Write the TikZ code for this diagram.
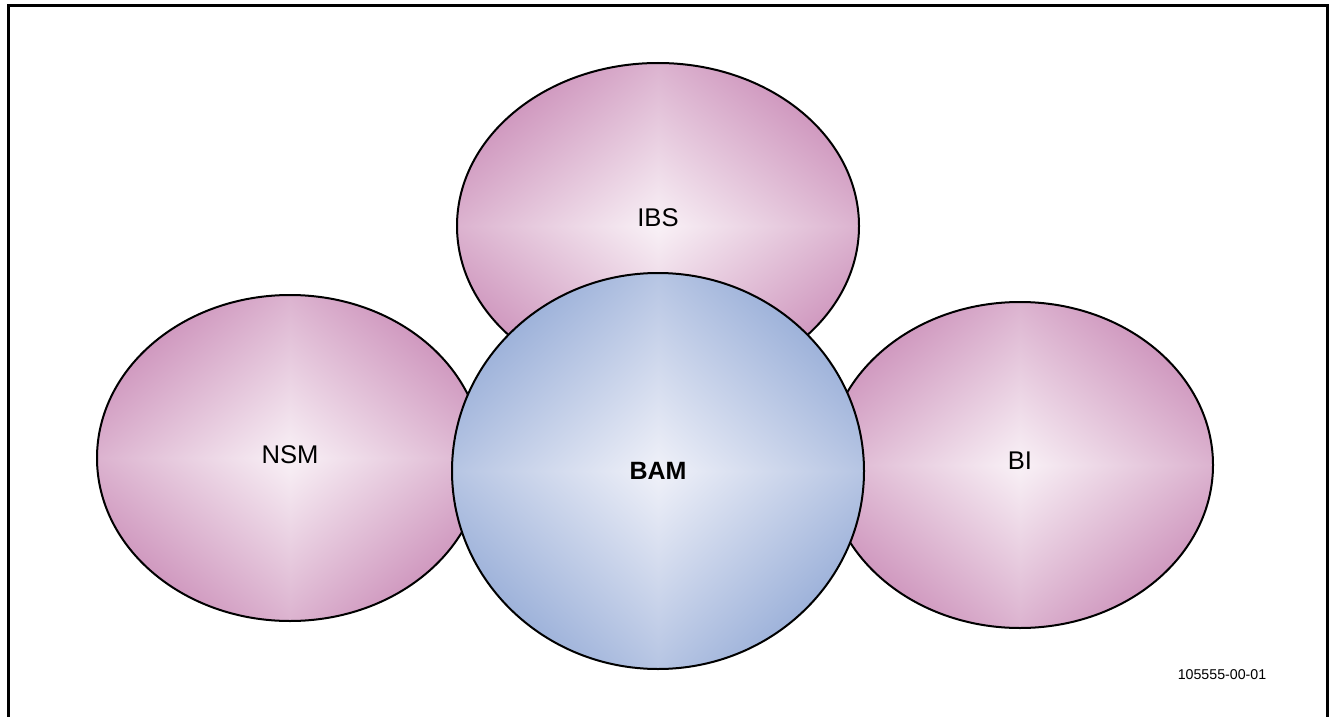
\documentclass[tikz,border=0pt]{standalone}
\usepackage{fontspec}
\setmainfont{Liberation Sans}
\usetikzlibrary{shapes.geometric}

% box-type glow: light centre, darker towards the corners
\pgfdeclarefunctionalshading{pinkglow}{\pgfpoint{0bp}{0bp}}{\pgfpoint{100bp}{100bp}}{}{
  50 sub abs 25 div exch 50 sub abs 25 div add 2 div
  dup -0.226 mul 0.975 add exch dup -0.488 mul 0.945 add exch -0.304 mul 0.965 add
}
\pgfdeclarefunctionalshading{blueglow}{\pgfpoint{0bp}{0bp}}{\pgfpoint{100bp}{100bp}}{}{
  50 sub abs 25 div exch 50 sub abs 25 div add 2 div
  dup -0.453 mul 0.940 add exch dup -0.347 mul 0.945 add exch -0.170 mul 0.975 add
}

\begin{document}
\begin{tikzpicture}[
        x=0.5pt, y=-0.5pt,
        petal/.style={ellipse, draw=black, line width=1pt, inner sep=0pt, shading=pinkglow,
            minimum width=193pt, minimum height=163pt, font=\fontsize{12.8}{15}\selectfont},
        core/.style={ellipse, draw=black, line width=1pt, inner sep=0pt, shading=blueglow,
            minimum width=206pt, minimum height=198pt, font=\fontsize{12.5}{15}\selectfont\bfseries}
    ]
        \useasboundingbox (0,0) rectangle (1333,717);

        % Frame
        \draw[line width=1.5pt] (8,717) -- (8,6) -- (1327,6) -- (1327,717);

        % Outer ellipses
        \node[petal] (nsm) at (290,458) {\raisebox{3pt}{NSM}};
        \node[petal, minimum width=201pt] (ibs) at (658,226) {\raisebox{8pt}{IBS}};
        \node[petal] (bi) at (1020,465) {\raisebox{4pt}{BI}};

        % Centre circle
        \node[core] (bam) at (658,471) {BAM};

        % Figure number
        \node[font=\fontsize{7.1}{9}\selectfont] (figno) at (1222,675) {105555-00-01};
    \end{tikzpicture}
\end{document}
